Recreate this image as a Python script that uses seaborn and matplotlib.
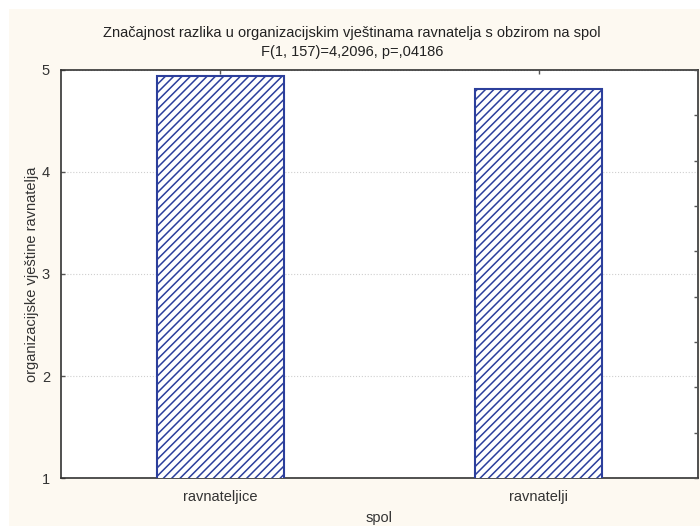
import numpy as np
import pandas as pd
import seaborn as sns
import matplotlib.pyplot as plt
from matplotlib.patches import Rectangle

# values
spol = ["ravnateljice", "ravnatelji"]
vjestine = [4.94, 4.81]

title_1 = "Značajnost razlika u organizacijskim vještinama ravnatelja s obzirom na spol"
title_2 = "F(1, 157)=4,2096, p=,04186"

df = pd.DataFrame({"spol": spol, "vjestine": vjestine})

sns.set_style("white")
plt.rcParams["font.family"] = ["Liberation Sans", "DejaVu Sans"]
plt.rcParams["hatch.linewidth"] = 1.1

blue = "#2c3f9c"
cream = "#fdf9f1"

fig = plt.figure(figsize=(7, 5.31), dpi=100)
fig.patch.set_facecolor("white")
fig.patches.append(Rectangle((9 / 700, 5 / 531), 691 / 700, 517 / 531,
                             transform=fig.transFigure, facecolor=cream,
                             edgecolor="none", zorder=-10))

ax = fig.add_axes([61 / 700, 1 - 478 / 531, 637 / 700, 408 / 531])
ax.set_facecolor("white")

sns.barplot(data=df, x="spol", y="vjestine", ax=ax, width=0.4,
            color="white", edgecolor=blue, linewidth=1.5, zorder=3)
for bar in ax.patches:
    bar.set_hatch("////")
    bar.set_facecolor("white")
    bar.set_edgecolor(blue)

ax.set_xlim(-0.5, 1.5)
ax.set_ylim(1, 5)
ax.set_yticks([1, 2, 3, 4, 5])
ax.yaxis.grid(True, color="#cfcfcf", linestyle=":", linewidth=0.8, zorder=0)
ax.set_axisbelow(True)

for s in ax.spines.values():
    s.set_visible(True)
    s.set_color("#333333")
    s.set_linewidth(1.2)

ax.tick_params(axis="both", direction="in", length=3, width=1, color="#555555",
               labelsize=10.5, labelcolor="#333333", top=True)
ax.tick_params(axis="x", pad=9)
ax.tick_params(axis="y", pad=8)

# right-hand axis with its own inner ticks and no labels
ax2 = ax.twinx()
ax2.set_ylim(0, 9)
ax2.set_yticks(np.arange(0, 10))
ax2.set_yticklabels([])
ax2.tick_params(axis="y", direction="in", length=3, width=1, color="#555555")
for s in ax2.spines.values():
    s.set_visible(False)

ax.set_xlabel("spol", fontsize=10.5, color="#333333", labelpad=5)
ax.set_ylabel("organizacijske vještine ravnatelja", fontsize=10.5, color="#333333",
              labelpad=2)

fig.text(0.503, 1 - 33 / 531, title_1, ha="center", va="center", fontsize=10.5,
         color="#222222")
fig.text(0.503, 1 - 52 / 531, title_2, ha="center", va="center", fontsize=10.5,
         color="#222222")

fig.savefig("out.png", dpi=100, facecolor=fig.get_facecolor())
